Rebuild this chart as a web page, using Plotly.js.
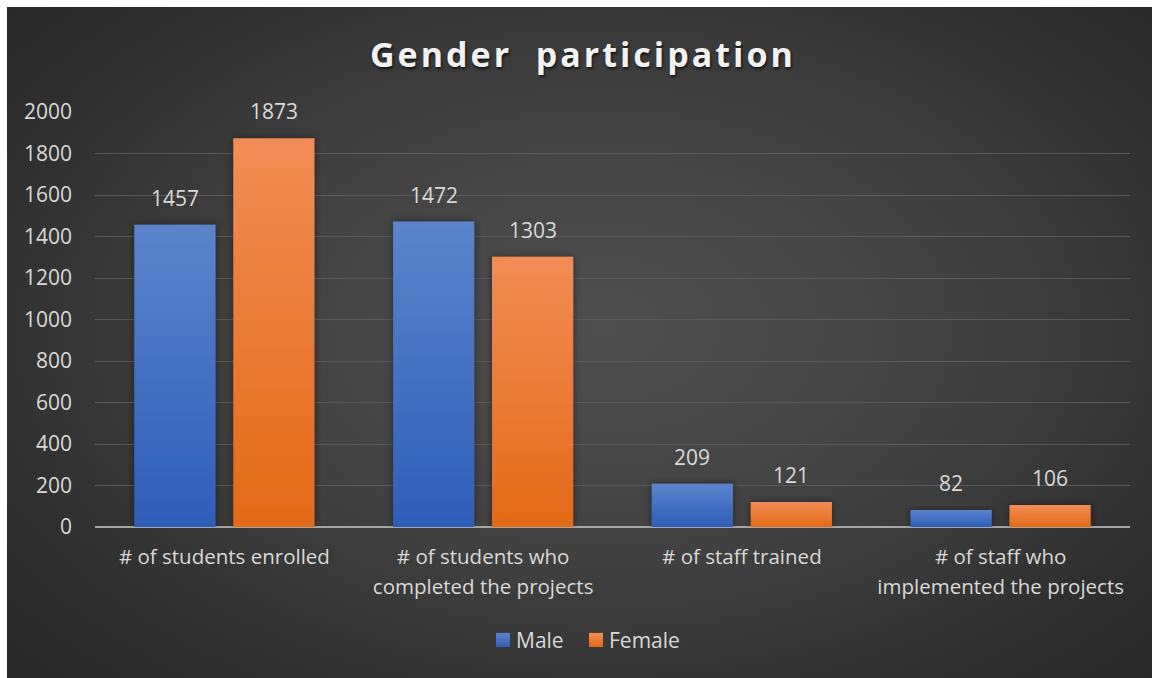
<!DOCTYPE html>
<html>
<head>
<meta charset="utf-8">
<script src="https://cdn.plot.ly/plotly-3.0.1.min.js"></script>
<style>
  html, body { margin: 0; padding: 0; background: #ffffff; }
  #wrap { position: relative; width: 1152px; height: 678px; }
  #bg { position: absolute; left: 7px; top: 7px; right: 0; bottom: 0;
        background: radial-gradient(ellipse 70% 75% at 52% 48%, #4f4f4f 0%, #414141 45%, #2f2f2f 80%, #272727 100%); }
  #chart { position: absolute; left: 0; top: 0; width: 1152px; height: 678px; }
  .gtitle { letter-spacing: 3px; }
</style>
</head>
<body>
<div id="wrap">
  <div id="bg"></div>
  <div id="chart"></div>
</div>
<script>
const categories = [
  "# of students enrolled",
  "# of students who<br>completed the projects",
  "# of staff trained",
  "# of staff who<br>implemented the projects"
];
const maleValues = [1457, 1472, 209, 82];
const femaleValues = [1873, 1303, 121, 106];
const seriesNames = ["Male", "Female"];
const yTickValues = [0, 200, 400, 600, 800, 1000, 1200, 1400, 1600, 1800, 2000];

const textColor = "#d9d9d9";
const fontFamily = "'Open Sans', 'Noto Sans', sans-serif";

const traces = [
  { type: "bar", name: seriesNames[0], x: categories, y: maleValues,
    marker: { color: "#4472c4" }, hoverinfo: "skip" },
  { type: "bar", name: seriesNames[1], x: categories, y: femaleValues,
    marker: { color: "#ed7d31" }, hoverinfo: "skip" }
];

const annotations = [];
[maleValues, femaleValues].forEach((vals, si) => {
  vals.forEach((v, i) => {
    annotations.push({
      x: categories[i], y: v, xref: "x", yref: "y",
      text: String(v), showarrow: false,
      xshift: si === 0 ? -49.5 : 49.5, yshift: 11,
      yanchor: "bottom", xanchor: "center",
      font: { family: fontFamily, size: 21, color: textColor }
    });
  });
});

const layout = {
  width: 1152, height: 678,
  paper_bgcolor: "rgba(0,0,0,0)",
  plot_bgcolor: "rgba(0,0,0,0)",
  margin: { l: 95, r: 22, t: 112, b: 151 },
  title: {
    text: "Gender  participation",
    xref: "container", yref: "container",
    x: 0.506, y: 0.919, xanchor: "center", yanchor: "middle",
    font: { family: fontFamily, size: 34, color: "#f2f2f2", weight: "bold",
            shadow: "1px 2px 3px rgba(0,0,0,0.7)" }
  },
  barmode: "group",
  bargap: 0.235,
  bargroupgap: 0.18,
  showlegend: true,
  legend: {
    orientation: "h", x: 0.51, xanchor: "center", y: -0.273, yanchor: "middle",
    font: { family: fontFamily, size: 21, color: textColor },
    bgcolor: "rgba(0,0,0,0)", itemwidth: 30, traceorder: "normal"
  },
  xaxis: {
    type: "category",
    tickfont: { family: fontFamily, size: 20.5, color: textColor },
    ticks: "", showgrid: false, zeroline: false,
    showline: false, ticklabelstandoff: 15
  },
  yaxis: {
    range: [0, 2000], tickvals: yTickValues,
    tickfont: { family: fontFamily, size: 21, color: textColor },
    showgrid: true, gridcolor: "#5a5a5a", gridwidth: 1,
    zeroline: true, zerolinecolor: "#a6a6a6", zerolinewidth: 2,
    ticks: "", showline: false, ticklabelstandoff: 22
  },
  annotations: annotations
};

Plotly.newPlot("chart", traces, layout, { staticPlot: true, displayModeBar: false }).then(gd => {
  const svg = gd.querySelector(".main-svg");
  const ns = "http://www.w3.org/2000/svg";
  let defs = svg.querySelector("defs");
  if (!defs) { defs = document.createElementNS(ns, "defs"); svg.insertBefore(defs, svg.firstChild); }
  function grad(id, top, bottom) {
    const g = document.createElementNS(ns, "linearGradient");
    g.setAttribute("id", id);
    g.setAttribute("x1", "0"); g.setAttribute("y1", "0");
    g.setAttribute("x2", "0"); g.setAttribute("y2", "1");
    [[0, top], [1, bottom]].forEach(([o, c]) => {
      const s = document.createElementNS(ns, "stop");
      s.setAttribute("offset", o); s.setAttribute("stop-color", c);
      g.appendChild(s);
    });
    defs.appendChild(g);
  }
  grad("gradMale", "#5b84cc", "#2e5eb8");
  grad("gradFemale", "#f28c56", "#e36a16");
  const sh = document.createElementNS(ns, "filter");
  sh.setAttribute("id", "barShadow");
  sh.setAttribute("x", "-20%"); sh.setAttribute("y", "-20%");
  sh.setAttribute("width", "140%"); sh.setAttribute("height", "140%");
  sh.innerHTML = '<feDropShadow dx="0" dy="0" stdDeviation="4" flood-color="#000" flood-opacity="0.45"/>';
  defs.appendChild(sh);
  const ids = ["gradMale", "gradFemale"];
  gd.querySelectorAll(".barlayer .trace.bars").forEach((t, i) => {
    t.querySelectorAll("path").forEach(p => {
      p.style.fill = "url(#" + ids[i] + ")";
      p.setAttribute("filter", "url(#barShadow)");
    });
  });

  // wider line spacing for the two-line category labels (only the 2nd+ lines)
  gd.querySelectorAll(".xtick text tspan.line").forEach(ts => {
    const dy = ts.getAttribute("dy");
    if (dy && parseFloat(dy) !== 0) ts.setAttribute("dy", "1.5em");
  });

  // compact legend: symbol close to its text, items centred like the reference
  const sb = gd.querySelector(".legend .scrollbox");
  if (sb) sb.removeAttribute("clip-path");
  const targets = [503, 596];
  gd.querySelectorAll(".legend .traces").forEach((t, i) => {
    let pt = null;
    t.querySelectorAll(".legendpoints path").forEach(p => {
      const r = p.getBoundingClientRect();
      if (r.width > 0) {
        p.style.fill = "url(#" + ids[i] + ")";
        const tr = p.getAttribute("transform") || "";
        p.setAttribute("transform", tr + " scale(1.17)");
        pt = p;
      }
    });
    const txt = t.querySelector("text.legendtext");
    if (txt) txt.setAttribute("x", "33");
    if (pt && targets[i] !== undefined) {
      const r = pt.getBoundingClientRect();
      const cx = r.left + r.width / 2;
      const dx = targets[i] - cx;
      const m = /translate\(([-\d.]+)[ ,]+([-\d.]+)\)/.exec(t.getAttribute("transform") || "");
      if (m) t.setAttribute("transform", "translate(" + (parseFloat(m[1]) + dx) + "," + m[2] + ")");
    }
  });
});
</script>
</body>
</html>
